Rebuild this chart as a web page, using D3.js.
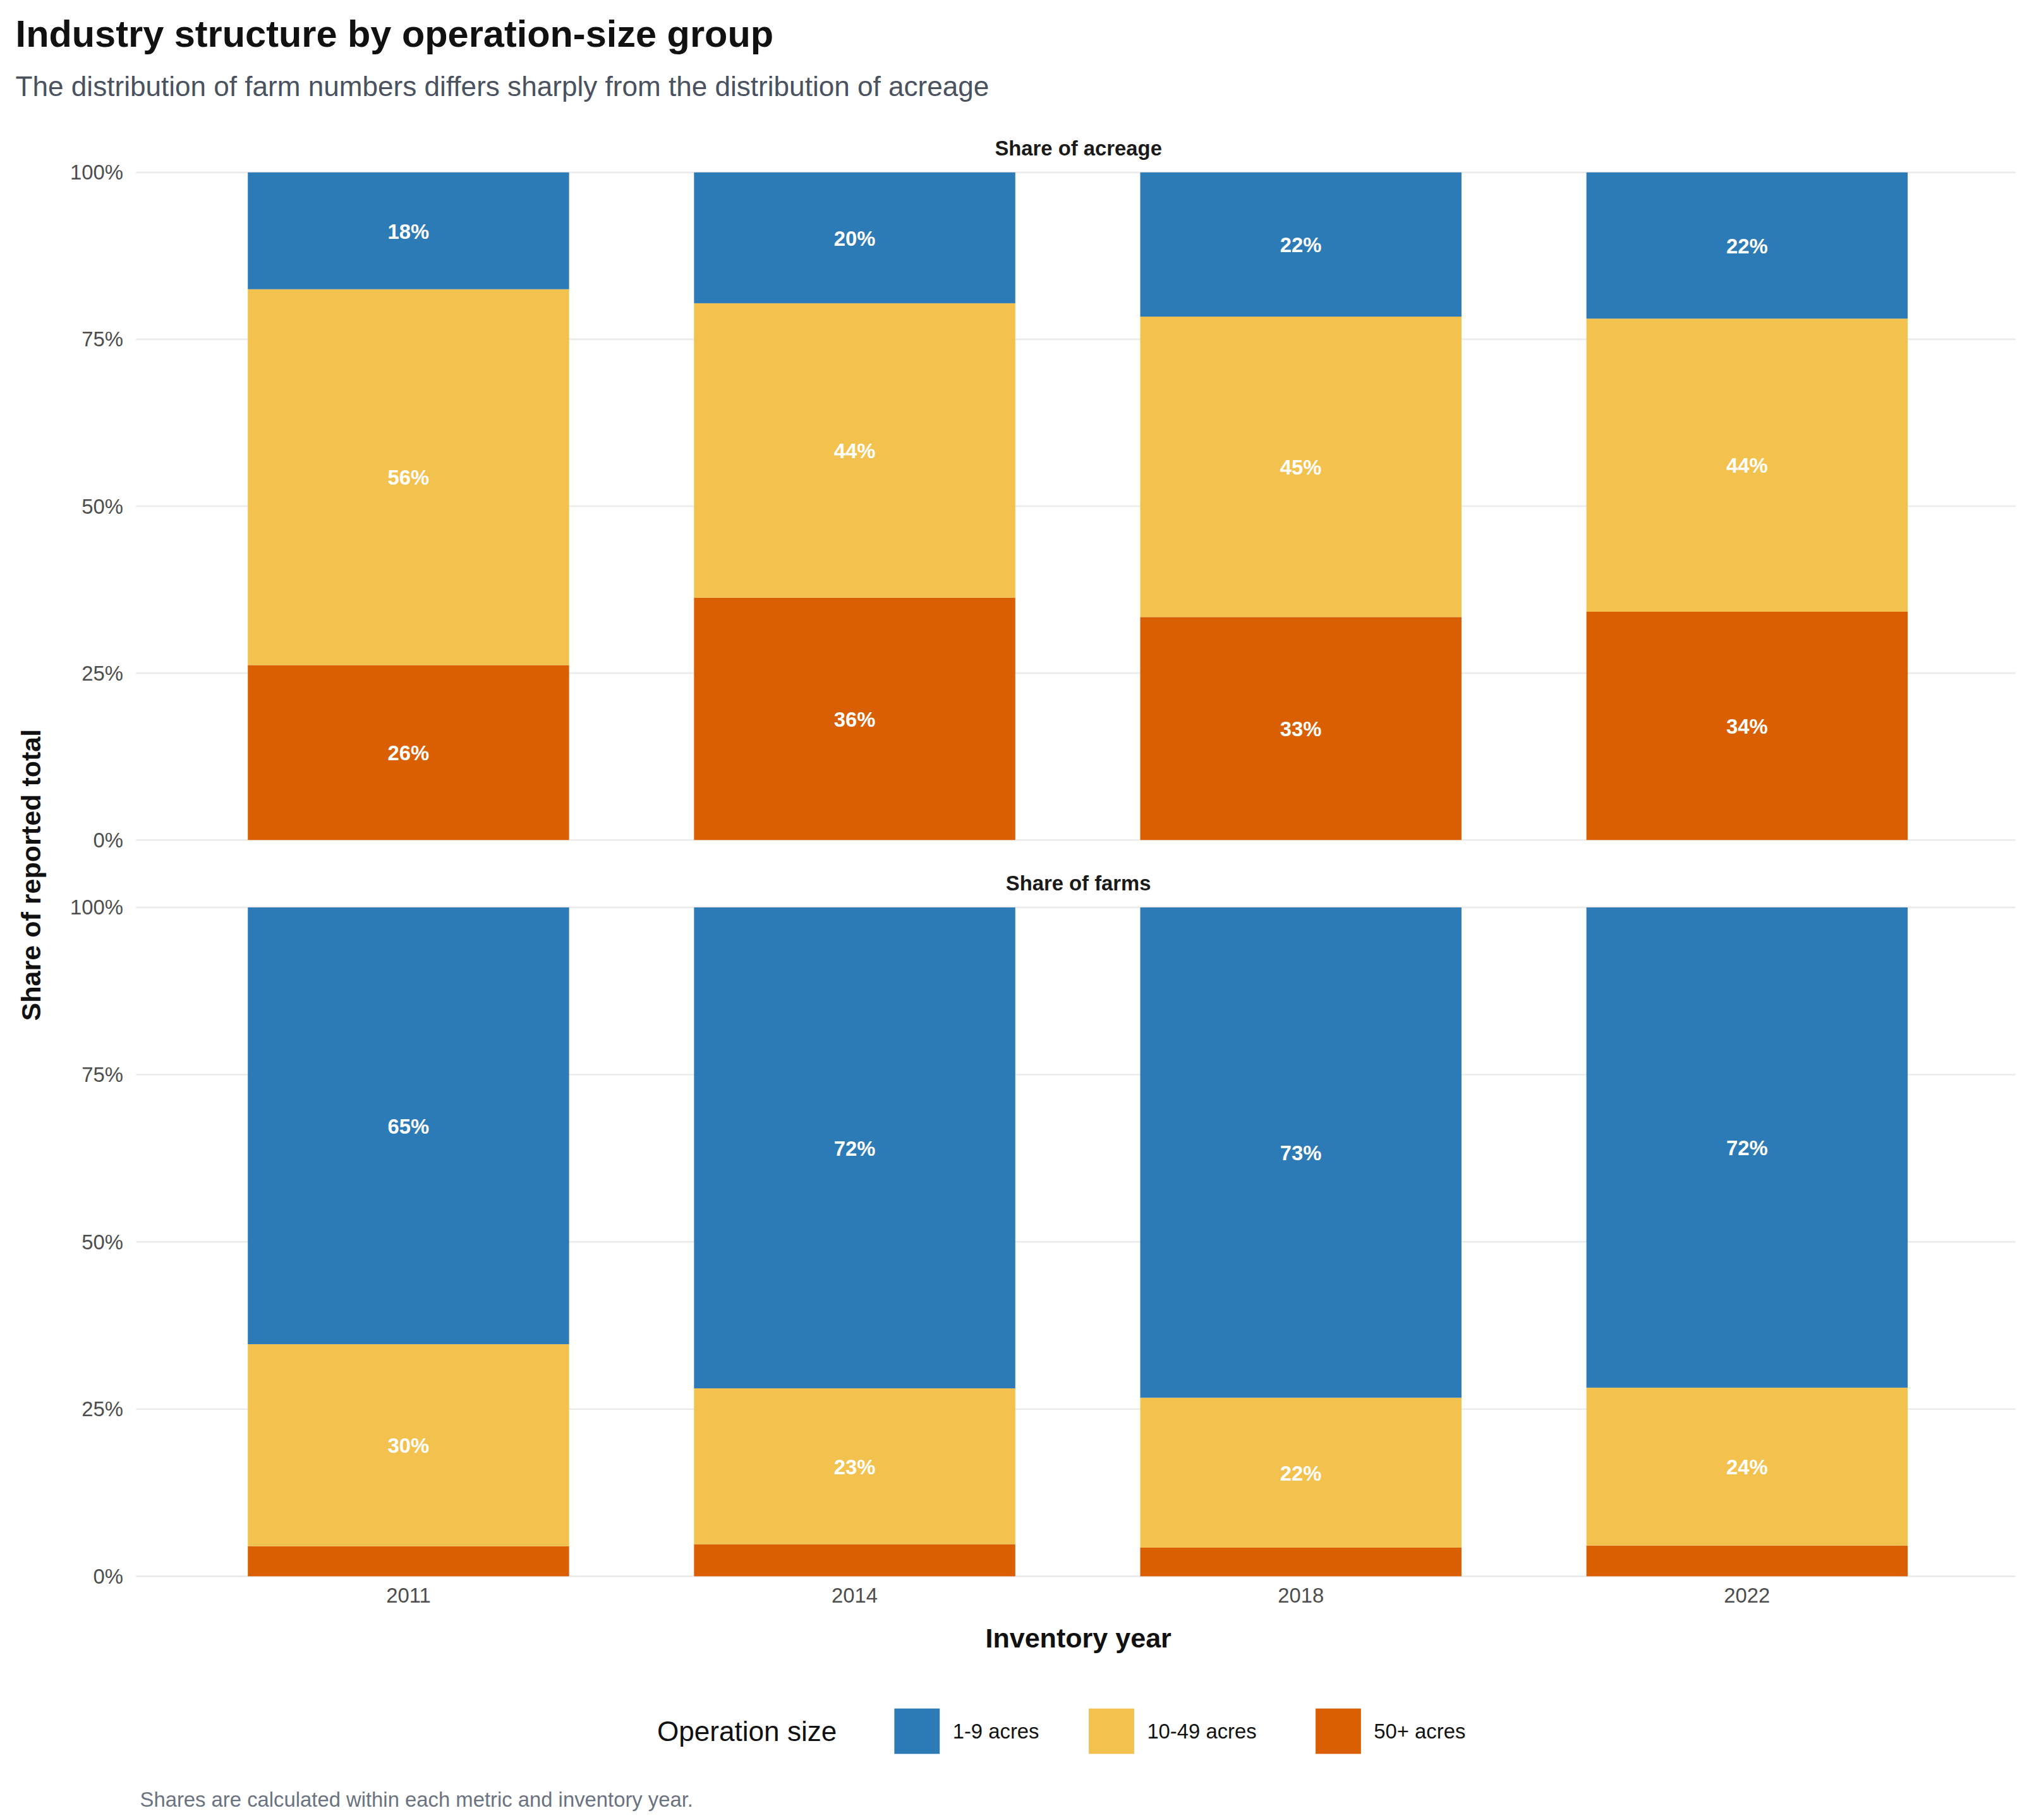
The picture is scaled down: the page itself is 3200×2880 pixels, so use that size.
<!DOCTYPE html>
<html><head><meta charset="utf-8">
<script src="https://cdn.jsdelivr.net/npm/d3@7"></script>
<style>body{margin:0;background:#fff}svg{font-family:Arial,"Liberation Sans",sans-serif}</style>
</head><body>
<script>
// data (percent shares)
var years = ["2011", "2014", "2018", "2022"];
var groups = ["50+ acres", "10-49 acres", "1-9 acres"];
var legendOrder = ["1-9 acres", "10-49 acres", "50+ acres"];
var acreSmall = [17.5, 19.6, 21.6, 21.9];
var acreMid = [56.3, 44.1, 45.0, 43.9];
var acreLarge = [26.2, 36.3, 33.4, 34.2];
var farmSmall = [65.3, 71.9, 73.3, 71.8];
var farmMid = [30.2, 23.3, 22.4, 23.6];
var farmLarge = [4.5, 4.8, 4.3, 4.6];
var yTicks = [0, 25, 50, 75, 100];

var colors = {"1-9 acres": "#2C7BB6", "10-49 acres": "#F2C14E", "50+ acres": "#D95F02"};
var S = 3200 / 1560;

var svg = d3.select("body").append("svg").attr("width", 3200).attr("height", 2880);
var g = svg.append("g").attr("transform", "scale(" + S + ")");

g.append("text").attr("x", 12).attr("y", 36).text("Industry structure by operation-size group")
    .attr("font-size", 29).attr("font-weight", "bold").attr("fill", "#111");
g.append("text").attr("x", 12).attr("y", 74).text("The distribution of farm numbers differs sharply from the distribution of acreage")
    .attr("font-size", 21.5).attr("fill", "#4a5260");

var x = d3.scaleBand().domain(years).range([143, 1520]).paddingInner(0.28).paddingOuter(0.14);

var panels = [
    {title: "Share of acreage", top: 133, bottom: 648, vals: {"1-9 acres": acreSmall, "10-49 acres": acreMid, "50+ acres": acreLarge}},
    {title: "Share of farms", top: 700, bottom: 1216, vals: {"1-9 acres": farmSmall, "10-49 acres": farmMid, "50+ acres": farmLarge}}
];

panels.forEach(function (p) {
    var y = d3.scaleLinear().domain([0, 100]).range([p.bottom, p.top]);
    var pg = g.append("g");
    pg.selectAll(".grid").data(yTicks).enter().append("line")
        .attr("x1", 105).attr("x2", 1555)
        .attr("y1", function (d) { return y(d); }).attr("y2", function (d) { return y(d); })
        .attr("stroke", "#EBEBEB").attr("stroke-width", 1.3);
    var ax = pg.append("g").attr("transform", "translate(100,0)")
        .call(d3.axisLeft(y).tickValues(yTicks).tickSize(0).tickFormat(function (d) { return d + "%"; }));
    ax.select(".domain").remove();
    ax.selectAll("text").attr("font-size", 16).attr("fill", "#4D4D4D").attr("font-family", "Arial,'Liberation Sans',sans-serif").attr("dx", "-2");
    pg.append("text").attr("x", 832).attr("y", p.top - 13).attr("text-anchor", "middle")
        .attr("font-size", 16).attr("font-weight", "bold").attr("fill", "#1a1a1a").text(p.title);

    years.forEach(function (yr, i) {
        var base = 0;
        groups.forEach(function (gr) {
            var v = p.vals[gr][i];
            pg.append("rect").attr("x", x(yr)).attr("width", x.bandwidth())
                .attr("y", y(base + v)).attr("height", y(base) - y(base + v))
                .attr("fill", colors[gr]);
            if (v >= 5) {
                pg.append("text").attr("x", x(yr) + x.bandwidth() / 2).attr("y", y(base + v / 2) + 6)
                    .attr("text-anchor", "middle").attr("font-size", 16).attr("font-weight", "bold")
                    .attr("fill", "#fff").text(Math.round(v) + "%");
            }
            base += v;
        });
    });
});

var xa = g.append("g").attr("transform", "translate(0,1222)").call(d3.axisBottom(x).tickSize(0));
xa.select(".domain").remove();
xa.selectAll("text").attr("font-size", 16).attr("fill", "#4D4D4D").attr("font-family", "Arial,'Liberation Sans',sans-serif");

g.append("text").attr("x", 832).attr("y", 1271).attr("text-anchor", "middle")
    .attr("font-size", 21).attr("font-weight", "bold").attr("fill", "#111").text("Inventory year");
g.append("text").attr("transform", "translate(31,675) rotate(-90)").attr("text-anchor", "middle")
    .attr("font-size", 21).attr("font-weight", "bold").attr("fill", "#111").text("Share of reported total");

var lg = g.append("g");
lg.append("text").attr("x", 507).attr("y", 1343).attr("font-size", 21.5).attr("fill", "#111").text("Operation size");
var lx = [690, 840, 1015];
legendOrder.forEach(function (gr, i) {
    lg.append("rect").attr("x", lx[i]).attr("y", 1318).attr("width", 35).attr("height", 35).attr("fill", colors[gr]);
    lg.append("text").attr("x", lx[i] + 45).attr("y", 1341).attr("font-size", 16).attr("fill", "#111").text(gr);
});

g.append("text").attr("x", 108).attr("y", 1394).attr("font-size", 16).attr("fill", "#6b7280")
    .text("Shares are calculated within each metric and inventory year.");
</script>
</body></html>
